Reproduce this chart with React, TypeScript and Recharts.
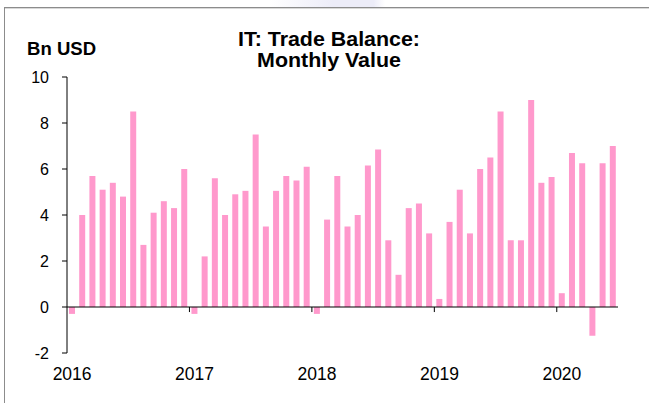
import { BarChart, Bar, XAxis, YAxis, ReferenceLine } from "recharts";

const years = ["2016", "2017", "2018", "2019", "2020"];
const monthNames = ["Jan", "Feb", "Mar", "Apr", "May", "Jun", "Jul", "Aug", "Sep", "Oct", "Nov", "Dec"];

// Bn USD, monthly
const balance2016 = [-0.3, 4.0, 5.7, 5.1, 5.4, 4.8, 8.5, 2.7, 4.1, 4.6, 4.3, 6.0];
const balance2017 = [-0.3, 2.2, 5.6, 4.0, 4.9, 5.05, 7.5, 3.5, 5.05, 5.7, 5.5, 6.1];
const balance2018 = [-0.3, 3.8, 5.7, 3.5, 4.0, 6.15, 6.85, 2.9, 1.4, 4.3, 4.5, 3.2];
const balance2019 = [0.35, 3.7, 5.1, 3.2, 6.0, 6.5, 8.5, 2.9, 2.9, 9.0, 5.4, 5.65];
const balance2020 = [0.6, 6.7, 6.25, -1.25, 6.25, 7.0];

const yTicks = [-2, 0, 2, 4, 6, 8, 10];

const byYear = [balance2016, balance2017, balance2018, balance2019, balance2020];
const data = byYear.flatMap((vals, yi) =>
  vals.map((v, mi) => ({ month: `${monthNames[mi]} ${years[yi]}`, year: years[yi], value: v }))
);

const font = '"Liberation Sans", Arial, sans-serif';
const PINK = "#ff99cc";

export default function App() {
  return (
    <div style={{ position: "absolute", left: 0, top: 0, width: 649, height: 403, background: "#fff", fontFamily: font }}>
      {/* frame lines */}
      <div style={{ position: "absolute", left: 270, top: 0, width: 115, height: 7, background: "linear-gradient(90deg, rgba(236,236,248,0) 0%, #ececf8 55%, #ececf8 90%, rgba(236,236,248,0) 100%)" }} />
      <div style={{ position: "absolute", left: 4, top: 7, width: 645, height: 1, background: "#8c8c8c" }} />
      <div style={{ position: "absolute", left: 4, top: 8, width: 645, height: 1, background: "#d8d8d8" }} />
      <div style={{ position: "absolute", left: 4, top: 7, width: 1, height: 396, background: "#8c8c8c" }} />

      <div
        style={{
          position: "absolute",
          left: 229,
          top: 28.5,
          width: 200,
          textAlign: "center",
          fontSize: 20,
          lineHeight: "21px",
          fontWeight: "bold",
          transform: "scaleX(1.07)",
          transformOrigin: "center",
          color: "#000",
        }}
      >
        IT: Trade Balance:
        <br />
        Monthly Value
      </div>
      <div
        style={{
          position: "absolute",
          left: 27,
          top: 41,
          fontSize: 17.5,
          lineHeight: "17.5px",
          fontWeight: "bold",
          transform: "scaleX(1.06)",
          transformOrigin: "left",
          color: "#000",
          whiteSpace: "nowrap",
        }}
      >
        Bn USD
      </div>

      <BarChart
        width={649}
        height={403}
        data={data}
        margin={{ top: 77, right: 31, bottom: 20, left: 0 }}
        style={{ position: "absolute", left: 0, top: 0 }}
      >
        <YAxis
          domain={[-2, 10]}
          ticks={yTicks}
          interval={0}
          width={67}
          axisLine={{ stroke: "#000" }}
          tickLine={{ stroke: "#000" }}
          tickSize={5}
          tickMargin={13}
          tick={{ fontSize: 16, fill: "#000", fontFamily: font }}
        />
        <XAxis
          dataKey="month"
          interval={11}
          tickFormatter={(m: string) => m.slice(4)}
          axisLine={false}
          tickLine={false}
          tickSize={0}
          tickMargin={15}
          height={30}
          tick={{ fontSize: 17.5, fill: "#000", fontFamily: font }}
        />
        <ReferenceLine y={0} stroke="#000" strokeWidth={1} />
        {years.slice(1).map((y) => (
          <ReferenceLine
            key={y}
            position="start"
            segment={[
              { x: `Jan ${y}`, y: 0 },
              { x: `Jan ${y}`, y: -0.22 },
            ]}
            stroke="#000"
            strokeWidth={1}
          />
        ))}
        <Bar dataKey="value" fill={PINK} barSize={6} isAnimationActive={false} />
      </BarChart>
    </div>
  );
}
